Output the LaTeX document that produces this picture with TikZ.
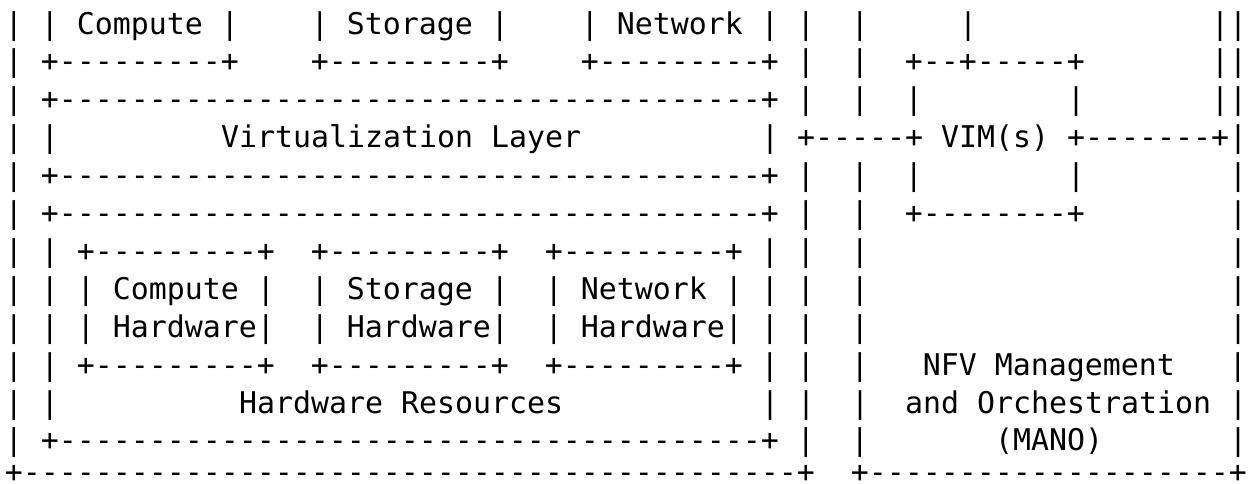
\documentclass[tikz,border=0pt]{standalone}
\usepackage{fontspec}
\newfontfamily\asciimono{DejaVu Sans Mono}
\tikzset{
  artline/.style={anchor=base west, inner sep=0pt, outer sep=0pt,
    font=\asciimono\fontsize{29.9pt}{36pt}\selectfont, text=black}
}
\begin{document}
\begin{tikzpicture}[x=1pt,y=1pt]
\fill[white] (0,0) rectangle (1253,-483);
\useasboundingbox (0,0) rectangle (1253,-483);
\node[artline] (l1)  at (5,-34.0)  {|~|~Compute~|~~~~|~Storage~|~~~~|~Network~|~|~~|~~~~~|~~~~~~~~~~~~~||};
\node[artline] (l2)  at (5,-71.9)  {|~+---------+~~~~+---------+~~~~+---------+~|~~|~~+--+-----+~~~~~~~||};
\node[artline] (l3)  at (5,-109.8) {|~+---------------------------------------+~|~~|~~|~~~~~~~~|~~~~~~~||};
\node[artline] (l4)  at (5,-147.7) {|~|~~~~~~~~~Virtualization~Layer~~~~~~~~~~|~+-----+~VIM(s)~+-------+|};
\node[artline] (l5)  at (5,-185.6) {|~+---------------------------------------+~|~~|~~|~~~~~~~~|~~~~~~~~|};
\node[artline] (l6)  at (5,-223.5) {|~+---------------------------------------+~|~~|~~+--------+~~~~~~~~|};
\node[artline] (l7)  at (5,-261.4) {|~|~+---------+~~+---------+~~+---------+~|~|~~|~~~~~~~~~~~~~~~~~~~~|};
\node[artline] (l8)  at (5,-299.3) {|~|~|~Compute~|~~|~Storage~|~~|~Network~|~|~|~~|~~~~~~~~~~~~~~~~~~~~|};
\node[artline] (l9)  at (5,-337.2) {|~|~|~Hardware|~~|~Hardware|~~|~Hardware|~|~|~~|~~~~~~~~~~~~~~~~~~~~|};
\node[artline] (l10) at (5,-375.1) {|~|~+---------+~~+---------+~~+---------+~|~|~~|~~~NFV~Management~~~|};
\node[artline] (l11) at (5,-413.0) {|~|~~~~~~~~~~Hardware~Resources~~~~~~~~~~~|~|~~|~~and~Orchestration~|};
\node[artline] (l12) at (5,-450.9) {|~+---------------------------------------+~|~~|~~~~~~~(MANO)~~~~~~~|};
\node[artline] (l13) at (5,-482.5) {+-------------------------------------------+~~+--------------------+};
\end{tikzpicture}
\end{document}
